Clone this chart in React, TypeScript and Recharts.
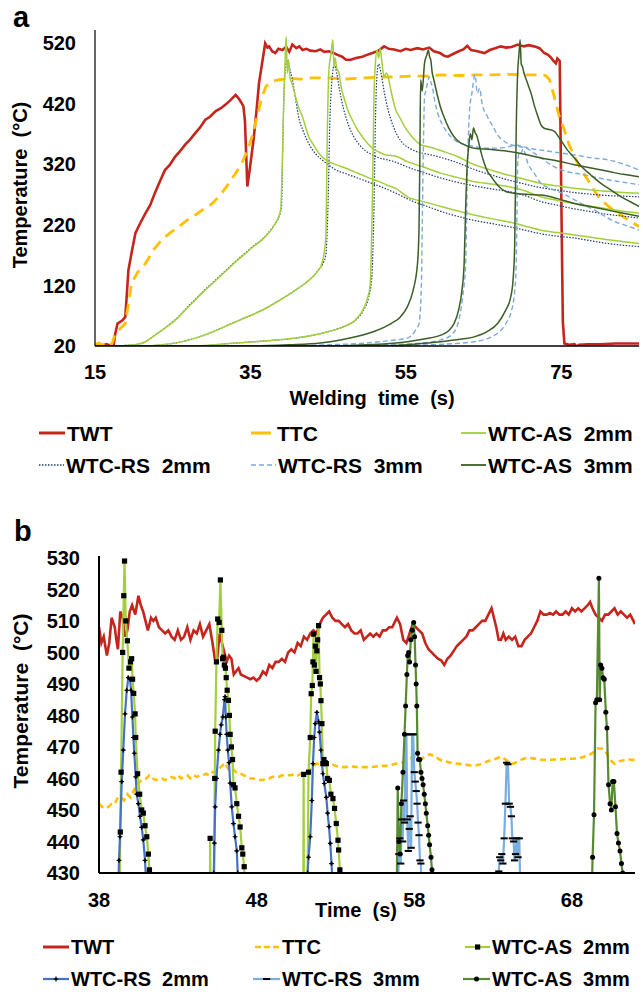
import { LineChart, Line, XAxis, YAxis } from "recharts";

type Pt = [number, number];

// ---------- panel a (welding time 15-85 s) ----------
const aTicksX = [15, 35, 55, 75];
const aTicksY = [20, 120, 220, 320, 420, 520];

const aTWT: Pt[] = [
  [15, 22], [16, 21], [16.5, 23], [17, 20], [17.4, 22], [17.6, 40], [17.9, 57], [18.5, 62], [18.9, 68], [19.3, 145],
  [19.8, 180], [20.2, 206], [20.8, 222], [21.5, 239], [22.1, 252], [22.7, 272], [23.3, 290], [24.0, 310], [24.6, 318],
  [25.3, 332], [26.0, 342], [26.6, 352], [27.2, 360], [27.9, 371], [28.5, 380], [29.2, 393], [29.8, 398], [30.5, 407],
  [31.2, 412], [31.8, 418], [32.4, 425], [33.1, 434], [33.5, 428], [33.8, 422], [34.1, 415], [34.3, 390], [34.6, 283],
  [34.9, 310], [35.4, 360], [35.8, 410], [36.1, 453], [36.5, 486], [36.9, 519], [37.2, 512], [37.4, 514], [37.8, 506],
  [38.2, 503], [38.6, 510], [39.1, 508], [39.6, 513], [40.0, 505], [40.4, 517], [40.9, 511], [41.3, 514], [41.7, 508],
  [42.2, 510], [42.7, 507], [43.4, 506], [44.0, 509], [44.5, 505], [45.1, 506], [45.7, 503], [46.2, 500], [46.8, 497],
  [47.3, 492], [47.9, 492], [48.6, 495], [49.4, 497], [50.0, 500], [50.7, 503], [51.5, 507], [52.2, 514], [52.8, 510],
  [53.5, 509], [54.3, 506], [55.0, 510], [55.6, 508], [56.5, 511], [57.2, 509], [58.0, 512], [58.6, 506], [59.4, 503],
  [60.0, 498], [60.4, 497], [61.0, 501], [61.8, 506], [62.4, 509], [62.9, 515], [63.4, 508], [64.2, 506], [65.1, 503],
  [65.8, 508], [66.5, 511], [67.2, 514], [67.9, 512], [68.6, 513], [69.4, 517], [70.2, 514], [70.8, 516], [71.5, 514],
  [72.2, 511], [72.8, 503], [73.3, 500], [73.7, 495], [74.0, 490], [74.3, 486], [74.5, 494], [74.8, 490], [75.0, 266],
  [75.2, 60], [75.4, 24], [76.0, 22], [76.7, 23], [77.0, 19], [77.3, 22], [78.4, 23], [80, 23], [82, 24], [85, 24],
];

const aTTC: Pt[] = [
  [15, 22], [15.5, 25], [16, 21], [16.4, 25], [16.8, 21], [17.2, 24], [17.6, 41], [18.2, 48], [18.9, 57], [19.3, 90],
  [19.7, 123], [20.5, 142], [21.5, 156], [22.5, 178], [23.6, 195], [24.7, 207], [25.8, 217], [26.8, 227], [27.9, 236],
  [29.0, 246], [30.1, 255], [31.2, 270], [32.2, 288], [33.1, 305], [33.9, 321], [34.6, 342], [35.2, 365], [35.9, 400],
  [36.5, 431], [37.0, 448], [37.4, 453], [38.0, 457], [38.7, 459], [40.0, 461], [41.5, 460], [43.0, 462], [45.1, 462],
  [47.0, 460], [49.4, 462], [51.5, 463], [53.7, 464], [56.0, 465], [58.0, 465], [59.5, 467], [62.0, 466], [64.0, 467],
  [66.0, 467], [68.1, 468], [70.0, 467], [72.4, 467], [73.0, 466], [73.5, 459], [74.1, 431], [74.7, 400], [75.4, 376],
  [76.0, 352], [76.7, 332], [77.5, 312], [78.4, 294], [79.2, 277], [80.1, 261], [81.2, 249], [82.3, 239], [83.6, 228],
  [85, 217],
];

const aAS2_1: Pt[] = [
  [15, 20], [17, 20], [19, 21], [20, 22], [21.5, 27], [22.5, 36], [23.6, 46], [24.7, 56], [25.8, 68], [26.8, 82],
  [27.9, 96], [29.0, 110], [30.1, 123], [31.2, 136], [32.2, 148], [33.3, 161], [34.4, 173], [35.4, 184], [36.5, 195],
  [37.4, 207], [38.2, 222], [38.7, 236], [38.9, 246], [39.1, 321], [39.3, 431], [39.5, 505], [39.6, 530], [39.75, 470],
  [39.9, 492], [40.1, 462], [40.4, 451], [40.8, 431], [41.2, 413], [41.7, 398], [42.1, 381], [42.5, 365], [43.0, 354],
  [43.4, 346], [43.8, 338], [44.2, 332], [44.7, 327], [45.1, 324], [46.0, 319], [47.3, 313], [48.4, 307], [49.4, 302],
  [50.5, 296], [51.6, 291], [52.6, 285], [53.7, 280], [55.2, 266], [57.3, 258], [59.5, 250], [61.6, 243], [63.8, 236],
  [66.0, 230], [68.1, 225], [70.3, 218], [72.4, 211], [74.5, 207], [76.7, 203], [79.0, 199], [81.0, 195], [83.0, 192],
  [85, 189],
];
const aAS2_2: Pt[] = [
  [15, 20], [21, 20], [23.6, 22], [25.8, 26], [27.9, 33], [30.1, 43], [32.2, 55], [34.4, 67], [36.5, 79], [38.7, 95],
  [40.8, 112], [42.0, 123], [43.0, 134], [43.8, 146], [44.2, 156], [44.5, 175], [44.7, 200], [44.9, 376], [45.1, 475],
  [45.4, 505], [45.6, 525], [45.75, 481], [45.9, 495], [46.1, 478], [46.4, 470], [46.7, 445], [47.0, 431], [47.5, 410],
  [48.1, 393], [48.7, 378], [49.4, 365], [50.0, 355], [50.7, 346], [51.5, 340], [52.4, 335], [53.7, 333], [55.2, 324],
  [57.3, 315], [59.5, 305], [61.6, 298], [63.8, 291], [66.0, 287], [68.1, 283], [70.3, 276], [72.4, 266], [74.5, 260],
  [76.7, 255], [79.0, 250], [81.0, 246], [83.0, 242], [85, 239],
];
const aAS2_3: Pt[] = [
  [15, 20], [28, 20], [32.2, 24], [36.5, 28], [40.8, 33], [45.1, 44], [47.0, 52], [48.5, 63], [49.5, 80], [50.1, 100],
  [50.4, 120], [50.6, 200], [50.7, 266], [50.9, 431], [51.1, 490], [51.3, 508], [51.5, 495], [51.7, 510], [51.9, 490],
  [52.2, 464], [52.5, 470], [52.8, 459], [53.1, 440], [53.7, 409], [54.3, 395], [54.9, 380], [55.6, 368], [56.3, 358],
  [56.9, 352], [57.7, 349], [58.6, 346], [60.0, 340], [61.7, 332], [63.8, 319], [66.0, 310], [68.1, 302], [70.3, 295],
  [72.4, 288], [74.5, 284], [76.7, 280], [79.0, 277], [81.0, 275], [83.0, 273], [85, 272],
];

const aRS2_1: Pt[] = [
  [15, 20], [17, 20], [19, 21], [20, 22], [21.5, 27], [22.5, 36], [23.6, 46], [24.7, 57], [25.8, 69], [26.8, 83],
  [27.9, 97], [29.0, 111], [30.1, 124], [31.2, 137], [32.2, 149], [33.3, 162], [34.4, 174], [35.4, 185], [36.5, 196],
  [37.4, 208], [38.2, 222], [38.8, 238], [39.0, 250], [39.2, 376], [39.4, 459], [39.6, 485], [39.8, 492], [40.0, 480],
  [40.4, 459], [40.8, 428], [41.2, 398], [41.8, 374], [42.5, 354], [43.3, 338], [44.2, 327], [45.0, 319], [45.9, 311],
  [47.5, 303], [49.4, 294], [51.5, 284], [53.7, 272], [56.0, 258], [58.0, 249], [59.5, 242], [61.6, 234], [63.8, 227],
  [66.0, 222], [68.1, 217], [70.3, 211], [72.4, 205], [74.5, 201], [76.7, 198], [79.0, 193], [81.0, 189], [83.0, 186],
  [85, 184],
];
const aRS2_2: Pt[] = [
  [15, 20], [21, 20], [23.6, 22], [25.8, 26], [27.9, 33], [30.1, 43], [32.2, 55], [34.4, 67], [36.5, 79], [38.7, 95],
  [40.8, 112], [42.0, 123], [43.0, 134], [43.8, 146], [44.4, 158], [44.7, 170], [45.0, 260], [45.2, 380], [45.5, 460],
  [45.8, 484], [46.1, 470], [46.5, 440], [47.0, 410], [47.6, 385], [48.3, 365], [49.0, 352], [49.8, 342], [50.7, 335],
  [51.6, 330], [52.6, 327], [53.7, 323], [55.2, 315], [57.3, 306], [59.5, 297], [61.6, 290], [63.8, 284], [66.0, 279],
  [68.1, 275], [70.3, 268], [72.4, 258], [74.5, 252], [76.7, 246], [79.0, 241], [81.0, 237], [83.0, 234], [85, 231],
];
const aRS2_3: Pt[] = [
  [15, 20], [28, 20], [32.2, 24], [36.5, 28], [40.8, 33], [45.1, 44], [47.0, 52], [48.5, 62], [49.5, 78], [50.2, 100],
  [50.6, 130], [50.9, 250], [51.1, 400], [51.3, 470], [51.5, 485], [51.8, 470], [52.2, 440], [52.7, 410], [53.3, 385],
  [54.0, 365], [54.8, 352], [55.6, 345], [56.5, 340], [57.5, 337], [58.6, 334], [60.0, 329], [61.7, 322], [63.8, 311],
  [66.0, 302], [68.1, 294], [70.3, 287], [72.4, 281], [74.5, 277], [76.7, 273], [79.0, 270], [81.0, 268], [83.0, 267],
  [85, 266],
];

const aRS3_1: Pt[] = [
  [15, 20], [38, 20], [45, 22], [50, 25], [53, 29], [55.2, 33], [56.2, 45], [56.7, 57], [57.0, 120], [57.1, 211],
  [57.3, 380], [57.4, 431], [57.6, 442], [57.8, 455], [58.0, 464], [58.2, 455], [58.4, 448], [58.7, 425], [59.1, 404],
  [59.7, 385], [60.4, 371], [61.2, 360], [62.1, 354], [63.8, 349], [66.0, 346], [67.5, 347], [69.4, 351], [70.8, 346],
  [72.4, 343], [74.5, 339], [76.7, 335], [79.0, 330], [81.0, 327], [83.0, 320], [85, 310],
];
const aRS3_2: Pt[] = [
  [15, 20], [45, 20], [52, 22], [57, 25], [59.5, 30], [61.0, 40], [61.7, 57], [62.3, 100], [62.7, 156], [62.9, 300],
  [63.2, 409], [63.5, 437], [63.9, 467], [64.2, 437], [64.5, 445], [64.8, 420], [65.5, 398], [66.2, 382], [66.8, 368],
  [67.6, 358], [68.5, 352], [69.6, 349], [70.7, 345], [71.5, 338], [72.4, 330], [73.5, 320], [74.5, 313], [75.6, 308],
  [76.7, 305], [78.0, 302], [79.5, 298], [81.0, 294], [83.0, 290], [85, 286],
];
const aRS3_3: Pt[] = [
  [15, 20], [50, 20], [58, 22], [63.8, 27], [66.8, 41], [68.0, 60], [68.5, 74], [69.0, 110], [69.2, 156], [69.4, 321],
  [69.6, 340], [69.8, 338], [70.1, 345], [70.3, 339], [70.7, 321], [71.1, 312], [71.5, 305], [72.4, 288], [73.2, 282],
  [74.1, 277], [75.4, 270], [76.7, 261], [78.0, 252], [79.3, 244], [80.6, 234], [81.9, 225], [83.5, 218], [85, 211],
];

const aAS3_1: Pt[] = [
  [15, 20], [35, 20], [40, 22], [44, 25], [46.6, 30], [48.8, 36], [50.9, 44], [53.1, 57], [54.3, 68], [55.2, 85],
  [55.9, 110], [56.5, 156], [56.7, 217], [56.8, 330], [56.9, 459], [57.1, 440], [57.4, 486], [57.7, 500], [57.9, 508],
  [58.05, 497], [58.2, 492], [58.4, 470], [58.6, 459], [59.1, 431], [59.5, 412], [59.9, 398], [60.5, 380], [61.2, 365],
  [61.8, 357], [62.5, 352], [63.8, 346], [66.0, 344], [68.1, 341], [70.3, 336], [72.4, 330], [74.5, 325], [76.7, 319],
  [79.0, 313], [81.0, 308], [83.0, 303], [85, 299],
];
const aAS3_2: Pt[] = [
  [15, 20], [44, 20], [50, 22], [55.2, 27], [57.5, 32], [59.5, 38], [60.5, 45], [61.2, 57], [61.8, 80], [62.2, 110],
  [62.5, 156], [62.7, 250], [62.9, 321], [63.1, 350], [63.3, 370], [63.5, 360], [63.7, 380], [63.9, 372], [64.1, 368],
  [64.4, 354], [64.7, 338], [65.1, 321], [65.5, 308], [66.0, 299], [66.5, 290], [67.2, 280], [68.0, 274], [69.0, 272],
  [70.5, 270], [72.4, 269], [74.5, 263], [76.7, 255], [79.0, 249], [81.0, 244], [83.0, 239], [85, 234],
];
const aAS3_3: Pt[] = [
  [15, 20], [52, 20], [56, 23], [59.5, 27], [62, 31], [63.8, 35], [65.5, 44], [66.8, 57], [67.8, 78], [68.5, 101],
  [68.8, 130], [69.0, 184], [69.2, 376], [69.4, 475], [69.55, 500], [69.7, 525], [69.85, 485], [70.0, 481], [70.2, 470],
  [70.5, 459], [70.8, 448], [71.1, 437], [71.5, 418], [72.0, 398], [72.4, 384], [72.8, 379], [73.4, 377], [74.1, 374],
  [74.9, 360], [75.8, 343], [76.7, 330], [77.6, 316], [78.8, 302], [80.1, 288], [81.4, 277], [82.7, 266], [84.0, 257],
  [85, 250],
];

// ---------- panel b (zoom, 38-72 s) ----------
const bTicksX = [38, 48, 58, 68];
const bTicksY = [430, 440, 450, 460, 470, 480, 490, 500, 510, 520, 530];

const bTWT: Pt[] = [
  [38.0, 508], [38.15, 503], [38.3, 505], [38.5, 499], [38.65, 503], [38.8, 511], [39.0, 508], [39.1, 504], [39.2, 501],
  [39.35, 513], [39.5, 511], [39.65, 505], [39.8, 507], [39.95, 513], [40.1, 515], [40.3, 512], [40.5, 518], [40.65, 515],
  [40.8, 513], [41.0, 509], [41.1, 507], [41.3, 511], [41.45, 510], [41.6, 511], [41.8, 508], [42.0, 507], [42.2, 506],
  [42.4, 507], [42.6, 505], [42.8, 504], [43.0, 507], [43.2, 504], [43.4, 505], [43.6, 508], [43.8, 504], [44.0, 507],
  [44.2, 506], [44.4, 509], [44.6, 505], [44.8, 507], [45.0, 509], [45.2, 503], [45.35, 498], [45.5, 498], [45.65, 506],
  [45.8, 503], [45.95, 500], [46.1, 497], [46.25, 499], [46.4, 498], [46.55, 493], [46.7, 494], [46.85, 495], [47.0, 493],
  [47.2, 492.5], [47.4, 492], [47.6, 491.5], [47.8, 492], [48.0, 491], [48.2, 492], [48.4, 494], [48.6, 493], [48.8, 496],
  [49.0, 495], [49.2, 497], [49.4, 497], [49.6, 498], [49.8, 497], [50.0, 500], [50.2, 501], [50.4, 500], [50.6, 503],
  [50.8, 502], [51.0, 505], [51.2, 504], [51.4, 506], [51.6, 507], [51.8, 506], [52.0, 509], [52.2, 511], [52.4, 512],
  [52.6, 513], [52.8, 511], [53.0, 510], [53.2, 510], [53.4, 509], [53.6, 508], [53.8, 509], [54.0, 507], [54.2, 506],
  [54.4, 506], [54.6, 507], [54.8, 504], [55.0, 505], [55.2, 506], [55.4, 505], [55.6, 506], [55.8, 505], [56.0, 507],
  [56.2, 507], [56.4, 508], [56.6, 508], [56.8, 510], [56.9, 511], [57.1, 509], [57.3, 504], [57.5, 503], [57.7, 506],
  [57.9, 509], [58.1, 508], [58.3, 507], [58.5, 506], [58.7, 503], [58.9, 501], [59.1, 500], [59.3, 499], [59.5, 498],
  [59.7, 497.5], [59.9, 496], [60.1, 498], [60.3, 499], [60.5, 500.5], [60.7, 502], [60.9, 503], [61.1, 504], [61.3, 505],
  [61.5, 507], [61.7, 507], [61.9, 508], [62.1, 509], [62.3, 510], [62.5, 510], [62.7, 512], [62.9, 514], [63.05, 511],
  [63.2, 508], [63.35, 504], [63.5, 504], [63.65, 506], [63.8, 504], [64.0, 505], [64.2, 504], [64.4, 505], [64.6, 502],
  [64.8, 502], [65.0, 504], [65.2, 505], [65.4, 506], [65.6, 508], [65.8, 510], [66.0, 513], [66.2, 512], [66.4, 512],
  [66.6, 512.5], [66.8, 512], [67.0, 513], [67.2, 512], [67.4, 512], [67.6, 513], [67.8, 512], [68.0, 514], [68.2, 513],
  [68.4, 514], [68.6, 513], [68.8, 514], [69.0, 515], [69.15, 516], [69.3, 514], [69.5, 512], [69.7, 511], [69.9, 510],
  [70.1, 512], [70.3, 512], [70.5, 513], [70.7, 514], [70.9, 512], [71.1, 513], [71.3, 512], [71.5, 511], [71.7, 512],
  [71.9, 510], [72.0, 509],
];

const bTTC: Pt[] = [
  [38.0, 452], [38.2, 451], [38.4, 450.5], [38.6, 451], [38.8, 452], [39.0, 452], [39.2, 454], [39.4, 454], [39.6, 453],
  [39.8, 455], [40.0, 454], [40.2, 456], [40.4, 458], [40.6, 459], [40.8, 460], [41.0, 460], [41.2, 461], [41.4, 460],
  [41.6, 459.5], [41.8, 460], [42.0, 460], [42.2, 459.5], [42.4, 460], [42.6, 460.5], [42.8, 460], [43.0, 461], [43.2, 460],
  [43.4, 460.5], [43.6, 461], [43.8, 460], [44.0, 461], [44.2, 460.5], [44.4, 461], [44.6, 461], [44.8, 461.5], [45.0, 461],
  [45.2, 462], [45.4, 462], [45.6, 463], [45.8, 464], [46.0, 465], [46.2, 463], [46.4, 463.5], [46.6, 462.5], [46.8, 461.5],
  [47.0, 461.5], [47.2, 461], [47.4, 460.5], [47.6, 460], [47.8, 460], [48.0, 459.5], [48.2, 459.5], [48.4, 459.5],
  [48.6, 460], [48.8, 460], [49.0, 460.5], [49.2, 460.5], [49.4, 460.5], [49.6, 461], [49.8, 461], [50.0, 461], [50.2, 461],
  [50.4, 461.5], [50.6, 461], [50.8, 461.5], [51.0, 461.5], [51.2, 462], [51.4, 463], [51.6, 464], [51.8, 464.7],
  [52.0, 464.5], [52.2, 465], [52.4, 464.7], [52.7, 464.7], [53.0, 464], [53.3, 463.6], [53.6, 463.6], [54.0, 463.8],
  [54.4, 463.6], [54.8, 463.6], [55.2, 463.6], [55.6, 463.8], [56.0, 464], [56.4, 464], [56.8, 464.7], [57.2, 465],
  [57.6, 466], [58.0, 467], [58.4, 466], [58.7, 467], [59.0, 467.7], [59.3, 467], [59.6, 466], [59.9, 465.5], [60.3, 465],
  [60.7, 464.7], [61.1, 464.5], [61.5, 464.2], [61.8, 464], [62.2, 464.5], [62.6, 465.4], [63.0, 466], [63.3, 466.5],
  [63.5, 467], [63.8, 466], [64.0, 465], [64.3, 464.7], [64.6, 465.5], [64.9, 466.2], [65.2, 466.6], [65.6, 466.3],
  [66.0, 466], [66.4, 465.8], [66.8, 466], [67.1, 466], [67.5, 466.2], [68.1, 466.3], [68.5, 466.5], [69.0, 467.3],
  [69.3, 468], [69.6, 469.5], [69.9, 469.5], [70.1, 469], [70.3, 467], [70.5, 465.5], [70.7, 464.7], [71.0, 465.5],
  [71.3, 465.8], [71.6, 466], [72.0, 465.8],
];

const bAS2_1: Pt[] = [
  [39.30, 420], [39.35, 443], [39.40, 462], [39.50, 500], [39.57, 518], [39.62, 529], [39.70, 510], [39.80, 503.7],
  [39.90, 495], [40.00, 497], [40.07, 498], [40.13, 491.5], [40.20, 487], [40.29, 480.5], [40.33, 473], [40.45, 461.5],
  [40.58, 455], [40.71, 450], [40.81, 449], [40.92, 445], [41.03, 441.5], [41.13, 436], [41.20, 431], [41.23, 422],
];
const bAS2_2: Pt[] = [
  [45.03, 420], [45.05, 441], [45.08, 420], [45.30, 420], [45.34, 460], [45.37, 475], [45.45, 497], [45.53, 510.6],
  [45.62, 509.5], [45.70, 523], [45.79, 507], [45.84, 498], [45.89, 498.5], [45.95, 496], [46.02, 495], [46.07, 492],
  [46.13, 488], [46.21, 484.8], [46.27, 480], [46.32, 474], [46.40, 470], [46.47, 466], [46.53, 458], [46.63, 457],
  [46.74, 452], [46.85, 448], [46.95, 444.6], [47.06, 438], [47.12, 436], [47.21, 432], [47.24, 422],
];
const bAS2_3: Pt[] = [
  [50.96, 420], [50.98, 461.3], [51.00, 420], [51.22, 420], [51.29, 462], [51.40, 473], [51.46, 486.9], [51.53, 489.5],
  [51.57, 497], [51.61, 505.8], [51.66, 496], [51.72, 502], [51.77, 494], [51.82, 500.5], [51.87, 504], [51.93, 508.5],
  [51.99, 492], [52.04, 490], [52.08, 484.7], [52.14, 477.4], [52.20, 464.7], [52.27, 466], [52.35, 465], [52.42, 464.7],
  [52.50, 460], [52.61, 459.4], [52.71, 455], [52.84, 453.6], [52.94, 450.5], [53.05, 445.7], [53.16, 440.4],
  [53.20, 437.3], [53.28, 431], [53.31, 422],
];

const bRS2_1: Pt[] = [
  [39.20, 422], [39.27, 434], [39.33, 441.5], [39.44, 459], [39.54, 469], [39.65, 480.5], [39.76, 488], [39.86, 492],
  [39.97, 491.5], [40.03, 488], [40.12, 479.5], [40.18, 473], [40.24, 468], [40.33, 460.5], [40.39, 455], [40.50, 452],
  [40.60, 448], [40.71, 444.5], [40.81, 440.5], [40.92, 434], [40.98, 428], [41.00, 420],
];
const bRS2_2: Pt[] = [
  [45.24, 422], [45.28, 430], [45.32, 439.5], [45.37, 451], [45.45, 460], [45.58, 469], [45.68, 474], [45.75, 477],
  [45.85, 479.5], [45.96, 485], [46.00, 486], [46.04, 479.5], [46.10, 474], [46.17, 469], [46.25, 465], [46.32, 458.5],
  [46.42, 451], [46.53, 445.7], [46.63, 441.5], [46.74, 437], [46.80, 430], [46.83, 422],
];
const bRS2_3: Pt[] = [
  [51.20, 422], [51.23, 430], [51.29, 435], [51.40, 441.5], [51.50, 453], [51.57, 464.7], [51.65, 473], [51.72, 477.4],
  [51.82, 481], [51.93, 478], [51.99, 474.7], [52.08, 469], [52.20, 461.5], [52.29, 458.4], [52.42, 454], [52.50, 449],
  [52.59, 444.7], [52.67, 439.4], [52.75, 433], [52.80, 428], [52.83, 422],
];

const bRS3_1: Pt[] = [
  [56.95, 420], [57.02, 436], [57.08, 441], [57.14, 433], [57.20, 447], [57.26, 440], [57.32, 453], [57.38, 446],
  [57.45, 474], [57.50, 474], [57.55, 447], [57.62, 437], [57.68, 444], [57.74, 448], [57.80, 438], [57.86, 474],
  [57.93, 474], [58.00, 462], [58.06, 459], [58.12, 456], [58.18, 452], [58.24, 446], [58.30, 442], [58.36, 434],
  [58.42, 433], [58.48, 420],
];
const bRS3_2: Pt[] = [
  [63.30, 425], [63.36, 430.5], [63.42, 435], [63.48, 434], [63.55, 436], [63.62, 433], [63.70, 441], [63.78, 452],
  [63.86, 465], [63.94, 464.5], [64.02, 452], [64.10, 451], [64.16, 448], [64.22, 441], [64.30, 440], [64.36, 434],
  [64.42, 436], [64.50, 441], [64.58, 435], [64.66, 441], [64.72, 425],
];

const bAS3_1: Pt[] = [
  [56.88, 420], [56.95, 457], [57.02, 440], [57.10, 436], [57.18, 452], [57.28, 462], [57.38, 474], [57.45, 483],
  [57.53, 493], [57.58, 499], [57.64, 500], [57.70, 497], [57.78, 504], [57.87, 507], [57.96, 509.5], [58.02, 505],
  [58.08, 496], [58.12, 490], [58.16, 483], [58.21, 468], [58.27, 466], [58.35, 466], [58.42, 462], [58.49, 460],
  [58.56, 458], [58.63, 455], [58.70, 452], [58.76, 449], [58.85, 445], [58.91, 442], [58.97, 439], [59.06, 435],
  [59.12, 431], [59.16, 425],
];
const bAS3_3: Pt[] = [
  [69.24, 420], [69.31, 435], [69.40, 448.5], [69.50, 484], [69.58, 485], [69.71, 523.5], [69.76, 485], [69.82, 496],
  [69.90, 495], [69.98, 492], [70.05, 491.5], [70.15, 481], [70.22, 476], [70.32, 458], [70.42, 452], [70.50, 450],
  [70.58, 459], [70.66, 459], [70.76, 451], [70.86, 442.5], [70.95, 439.5], [71.05, 437], [71.14, 433], [71.22, 430],
  [71.28, 420],
];

const rows = (pts: Pt[]) => pts.map(([t, v]) => ({ t, v }));

const FONT = "'Liberation Sans', Arial, Helvetica, sans-serif";
const RED = "#C4261D";
const GOLD = "#FFC000";
const LIME = "#A3CF3C";
const NAVY = "#1F3B70";
const SKY = "#7DAADB";
const FOREST = "#3A5E25";
const B_BLUE = "#4472C4";
const B_SKY = "#79AEE0";
const B_GREEN = "#568A2E";

const xTick = (dy: number, size: number) => (p: any) => (
  <text x={p.x} y={p.y + dy} textAnchor="middle" fontSize={size} fontWeight={700} fontFamily={FONT} fill="#000">
    {p.payload.value}
  </text>
);
const yTick = (dx: number, size: number) => (p: any) => (
  <text x={p.x - dx} y={p.y + size * 0.36} textAnchor="end" fontSize={size} fontWeight={700} fontFamily={FONT} fill="#000">
    {p.payload.value}
  </text>
);

// markers for panel b
const hidden = (p: any) => p.payload == null || p.payload.v < 430 || p.cx == null;
const squareDot = (p: any) =>
  hidden(p) ? <g key={p.index} /> : <rect key={p.index} x={p.cx - 2.6} y={p.cy - 2.6} width={5.2} height={5.2} fill="#000" />;
const starDot = (p: any) =>
  hidden(p) ? <g key={p.index} /> : (
    <g key={p.index}>
      <path d={`M${p.cx - 2.4},${p.cy}h4.8M${p.cx},${p.cy - 2.4}v4.8`} stroke="#000" strokeWidth={1.2} />
      <circle cx={p.cx} cy={p.cy} r={1.3} fill="#000" />
    </g>
  );
const dashDot = (p: any) =>
  hidden(p) ? <g key={p.index} /> : <rect key={p.index} x={p.cx - 3.6} y={p.cy - 1} width={7.2} height={2} fill="#000" />;
const roundDot = (p: any) =>
  hidden(p) ? <g key={p.index} /> : <circle key={p.index} cx={p.cx} cy={p.cy} r={2.5} fill="#000" />;

const T = ({ x, y, size, children, anchor = "start", rotate }: any) => (
  <text
    x={x}
    y={y}
    fontSize={size}
    fontWeight={700}
    fontFamily={FONT}
    fill="#000"
    textAnchor={anchor}
    transform={rotate ? `rotate(-90 ${x} ${y})` : undefined}
    style={{ whiteSpace: "pre" }}
  >
    {children}
  </text>
);

export default function App() {
  const axisLine = { stroke: "#000", strokeWidth: 1.5 };
  return (
    <div style={{ position: "relative", width: 643, height: 995, background: "#fff", overflow: "hidden" }}>
      <style>{"body{margin:0;background:#fff}"}</style>

      {/* panel a */}
      <div style={{ position: "absolute", left: 0, top: 0 }}>
        <LineChart width={643} height={390} margin={{ top: 30, right: 4, bottom: 0, left: 0 }}>
          <XAxis
            type="number" dataKey="t" domain={[15, 85]} ticks={aTicksX} interval={0} allowDataOverflow
            height={44} tickLine={false} tickSize={0} tickMargin={0} axisLine={axisLine} tick={xTick(33, 20)}
          />
          <YAxis
            type="number" dataKey="v" domain={[20, 541]} ticks={aTicksY} interval={0} allowDataOverflow
            width={95} tickLine={false} tickSize={0} tickMargin={0} axisLine={{ stroke: "#000", strokeWidth: 1.2 }}
            tick={yTick(19, 20)}
          />
          <Line data={rows(aTWT)} dataKey="v" stroke={RED} strokeWidth={2.6} dot={false} isAnimationActive={false} />
          <Line data={rows(aTTC)} dataKey="v" stroke={GOLD} strokeWidth={2.8} strokeDasharray="11 7" dot={false} isAnimationActive={false} />
          {[aRS2_1, aRS2_2, aRS2_3].map((d, i) => (
            <Line key={"r2" + i} data={rows(d)} dataKey="v" type="monotone" stroke={NAVY} strokeWidth={1.2} strokeDasharray="1.5 1.5" dot={false} isAnimationActive={false} />
          ))}
          {[aAS2_1, aAS2_2, aAS2_3].map((d, i) => (
            <Line key={"a2" + i} data={rows(d)} dataKey="v" type="monotone" stroke={LIME} strokeWidth={1.5} dot={false} isAnimationActive={false} />
          ))}
          {[aRS3_1, aRS3_2, aRS3_3].map((d, i) => (
            <Line key={"r3" + i} data={rows(d)} dataKey="v" type="monotone" stroke={SKY} strokeWidth={1.4} strokeDasharray="5 3" dot={false} isAnimationActive={false} />
          ))}
          {[aAS3_1, aAS3_2, aAS3_3].map((d, i) => (
            <Line key={"a3" + i} data={rows(d)} dataKey="v" type="monotone" stroke={FOREST} strokeWidth={1.5} dot={false} isAnimationActive={false} />
          ))}
        </LineChart>
      </div>

      {/* panel b */}
      <div style={{ position: "absolute", left: 0, top: 510 }}>
        <LineChart width={643} height={410} margin={{ top: 46, right: 8, bottom: 0, left: 0 }}>
          <XAxis
            type="number" dataKey="t" domain={[38, 72]} ticks={bTicksX} interval={0} allowDataOverflow
            height={47} tickLine={false} tickSize={0} tickMargin={0} axisLine={{ stroke: "#000", strokeWidth: 2 }} tick={xTick(34, 20)}
          />
          <YAxis
            type="number" dataKey="v" domain={[430, 530.6]} ticks={bTicksY} interval={0} allowDataOverflow
            width={99} tickLine={false} tickSize={0} tickMargin={0} axisLine={{ stroke: "#000", strokeWidth: 2 }}
            tick={yTick(19, 20)}
          />
          <Line data={rows(bTWT)} dataKey="v" stroke={RED} strokeWidth={2.6} dot={false} isAnimationActive={false} />
          <Line data={rows(bTTC)} dataKey="v" stroke={GOLD} strokeWidth={2.6} strokeDasharray="6 4" dot={false} isAnimationActive={false} />
          {[bAS2_1, bAS2_2, bAS2_3].map((d, i) => (
            <Line key={"ba2" + i} data={rows(d)} dataKey="v" stroke={LIME} strokeWidth={2.2} dot={squareDot} isAnimationActive={false} />
          ))}
          {[bRS2_1, bRS2_2, bRS2_3].map((d, i) => (
            <Line key={"br2" + i} data={rows(d)} dataKey="v" stroke={B_BLUE} strokeWidth={2.2} dot={starDot} isAnimationActive={false} />
          ))}
          {[bRS3_1, bRS3_2].map((d, i) => (
            <Line key={"br3" + i} data={rows(d)} dataKey="v" stroke={B_SKY} strokeWidth={2.2} dot={dashDot} isAnimationActive={false} />
          ))}
          {[bAS3_1, bAS3_3].map((d, i) => (
            <Line key={"ba3" + i} data={rows(d)} dataKey="v" stroke={B_GREEN} strokeWidth={2.2} dot={roundDot} isAnimationActive={false} />
          ))}
        </LineChart>
      </div>

      {/* titles and legends */}
      <svg width={643} height={995} style={{ position: "absolute", left: 0, top: 0, pointerEvents: "none" }}>
        <T x={13} y={27} size={29}>a</T>
        <T x={14} y={541} size={29}>b</T>

        <T x={27} y={185} size={20} anchor="middle" rotate>{"Temperature  (°C)"}</T>
        <T x={372} y={405} size={20} anchor="middle">{"Welding  time  (s)"}</T>
        <T x={28} y={701} size={21} anchor="middle" rotate>{"Temperature  (°C)"}</T>
        <T x={356} y={917} size={20} anchor="middle">{"Time  (s)"}</T>

        {/* legend a */}
        <line x1={39} x2={65} y1={433} y2={433} stroke={RED} strokeWidth={3} />
        <T x={67} y={441} size={21}>TWT</T>
        <line x1={251} x2={271} y1={433} y2={433} stroke={GOLD} strokeWidth={3} />
        <T x={277} y={441} size={21}>TTC</T>
        <line x1={461} x2={486} y1={433} y2={433} stroke={LIME} strokeWidth={1.8} />
        <T x={488} y={441} size={21}>{"WTC-AS  2mm"}</T>
        <line x1={39} x2={64} y1={465} y2={465} stroke={NAVY} strokeWidth={1.3} strokeDasharray="1.5 1.5" />
        <T x={66} y={473} size={21}>{"WTC-RS  2mm"}</T>
        <line x1={251} x2={276} y1={465} y2={465} stroke={SKY} strokeWidth={1.5} strokeDasharray="5 3" />
        <T x={278} y={473} size={21}>{"WTC-RS  3mm"}</T>
        <line x1={461} x2={486} y1={465} y2={465} stroke={FOREST} strokeWidth={1.8} />
        <T x={488} y={473} size={21}>{"WTC-AS  3mm"}</T>

        {/* legend b */}
        <line x1={43} x2={69} y1={947} y2={947} stroke={RED} strokeWidth={3} />
        <T x={71} y={954} size={20}>TWT</T>
        <line x1={255} x2={280} y1={947} y2={947} stroke={GOLD} strokeWidth={2.6} strokeDasharray="6 3" />
        <T x={282} y={954} size={20}>TTC</T>
        <line x1={465} x2={490} y1={947} y2={947} stroke={LIME} strokeWidth={2.2} />
        <rect x={475} y={944.4} width={5.2} height={5.2} fill="#000" />
        <T x={492} y={954} size={20}>{"WTC-AS  2mm"}</T>
        <line x1={43} x2={69} y1={979} y2={979} stroke={B_BLUE} strokeWidth={2.2} />
        <path d="M53.6,979h4.8M56,976.6v4.8" stroke="#000" strokeWidth={1.2} />
        <circle cx={56} cy={979} r={1.3} fill="#000" />
        <T x={71} y={986} size={20}>{"WTC-RS  2mm"}</T>
        <line x1={253} x2={280} y1={979} y2={979} stroke={B_SKY} strokeWidth={2.2} />
        <rect x={263} y={978} width={7.2} height={2} fill="#000" />
        <T x={282} y={986} size={20}>{"WTC-RS  3mm"}</T>
        <line x1={463} x2={490} y1={979} y2={979} stroke={B_GREEN} strokeWidth={2.2} />
        <circle cx={476.5} cy={979} r={2.5} fill="#000" />
        <T x={492} y={986} size={20}>{"WTC-AS  3mm"}</T>
      </svg>
    </div>
  );
}
